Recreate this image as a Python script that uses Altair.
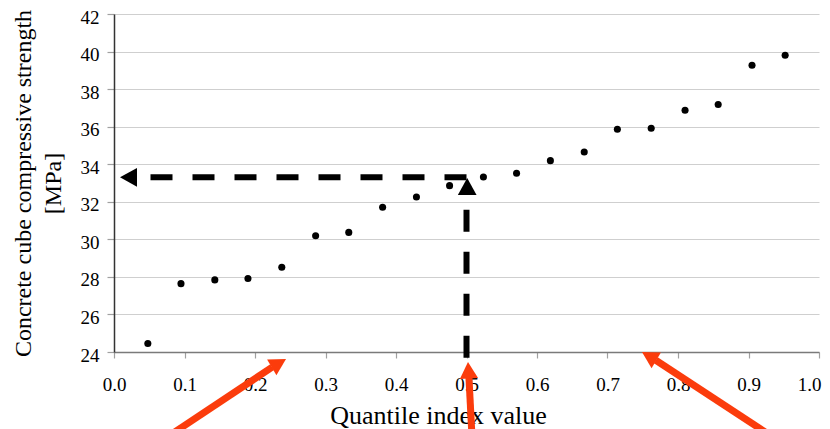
import altair as alt
import pandas as pd

# Quantile plot data
quantile = [0.048, 0.095, 0.143, 0.190, 0.238, 0.286, 0.333, 0.381, 0.429, 0.476,
            0.524, 0.571, 0.619, 0.667, 0.714, 0.762, 0.810, 0.857, 0.905, 0.952]
strength = [24.45, 27.64, 27.84, 27.91, 28.51, 30.19, 30.37, 31.71, 32.25, 32.86,
            33.32, 33.52, 34.19, 34.65, 35.86, 35.92, 36.87, 37.18, 39.27, 39.80]

x_ticks = [0.0, 0.1, 0.2, 0.3, 0.4, 0.5, 0.6, 0.7, 0.8, 0.9, 1.0]
y_ticks = [24, 26, 28, 30, 32, 34, 36, 38, 40, 42]

# Black dashed guide lines (median read-off)
guide_x = [0.5, 0.5]
guide_y = [33.3, 23.7]
guide_x2 = [0.03, 0.5]
guide_y2 = [33.3, 32.4]
# Black arrow heads: tip position and pointing angle
head_x = [0.0085, 0.501]
head_y = [33.3, 33.27]
head_angle = [270, 0]

# Red annotation arrows: tail, head base, tip, angle
red_tail_x = [0.0766, 0.5078, 0.9333]
red_tail_y = [19.5, 19.5, 19.5]
red_base_x = [0.2244, 0.5035, 0.7685]
red_base_y = [23.19, 22.62, 23.56]
red_tip_x = [0.244, 0.5021, 0.7489]
red_tip_y = [23.63, 23.47, 24.0]
red_angle = [59.3, 356.6, 300.7]

pts = pd.DataFrame({"q": quantile, "s": strength})
guides = pd.DataFrame({"x": guide_x, "y": guide_y, "x2": guide_x2, "y2": guide_y2})
heads = pd.DataFrame({"x": head_x, "y": head_y, "a": head_angle})
red_shafts = pd.DataFrame({"x": red_tail_x, "y": red_tail_y, "x2": red_base_x, "y2": red_base_y})
red_heads = pd.DataFrame({"x": red_tip_x, "y": red_tip_y, "a": red_angle})

FONT = "Liberation Serif, Times New Roman, serif"
RED = "#fb3c0c"
HEAD_PATH = "M0,0L0.55,1L-0.55,1Z"

xscale = alt.Scale(domain=[0, 1], nice=False)
yscale = alt.Scale(domain=[24, 42], nice=False)

xaxis = alt.Axis(values=x_ticks, format=".1f", grid=False, title="Quantile index value",
                 titleX=324, titleY=71, titleBaseline="alphabetic",
                 labelPadding=17, tickSize=6, labelFlush=False, labelOverlap=False,
                 labelAlign={"expr": "datum.value >= 1 ? 'right' : 'center'"},
                 labelOffset={"expr": "datum.value >= 1 ? 2 : 0"})
yaxis = alt.Axis(values=y_ticks, grid=True, title=["Concrete cube compressive strength", "[MPa]"],
                 titleX=-79, titleY=169, titleBaseline="bottom", titleLineHeight=30,
                 labelPadding=8, labelOffset=3, tickSize=7, labelFlush=False, labelOverlap=False)


def enc(xf, yf):
    return dict(x=alt.X(xf, scale=xscale, axis=xaxis), y=alt.Y(yf, scale=yscale, axis=yaxis))


points = alt.Chart(pts).mark_circle(size=50, color="black", opacity=1).encode(**enc("q:Q", "s:Q"))

guide_lines = alt.Chart(guides).mark_rule(color="black", strokeWidth=6, strokeDash=[22, 20]).encode(
    **enc("x:Q", "y:Q"), x2="x2:Q", y2="y2:Q"
)
guide_heads = alt.Chart(heads).mark_point(shape=HEAD_PATH, filled=True, color="black",
                                           size=1156, opacity=1).encode(
    **enc("x:Q", "y:Q"), angle=alt.Angle("a:Q", scale=None)
)

red_lines = alt.Chart(red_shafts).mark_rule(color=RED, strokeWidth=7).encode(
    **enc("x:Q", "y:Q"), x2="x2:Q", y2="y2:Q"
)
red_tips = alt.Chart(red_heads).mark_point(shape=HEAD_PATH, filled=True, color=RED,
                                           size=1100, opacity=1).encode(
    **enc("x:Q", "y:Q"), angle=alt.Angle("a:Q", scale=None)
)

chart = alt.layer(points, guide_lines, guide_heads, red_lines, red_tips).properties(
    width=705, height=338,
    autosize=alt.AutoSizeParams(type="none"),
    padding={"left": 106, "top": 6, "right": 3, "bottom": 77},
).configure_view(stroke=None).configure_axis(
    labelFont=FONT, titleFont=FONT, labelFontSize=19, titleFontSize=25,
    labelColor="black", titleColor="black", titleFontWeight="normal",
    gridColor="#cfcfcf", gridWidth=1.2, tickColor="#a0a0a0", tickWidth=1.2,
).configure_axisX(
    domainColor="#7a7a7a", domainWidth=1.5, titleFontSize=26
).configure_axisY(
    domainColor="#333333", domainWidth=1.5, titleFontSize=24
)

chart.save("out.html", embed_options={"renderer": "svg", "actions": False})
